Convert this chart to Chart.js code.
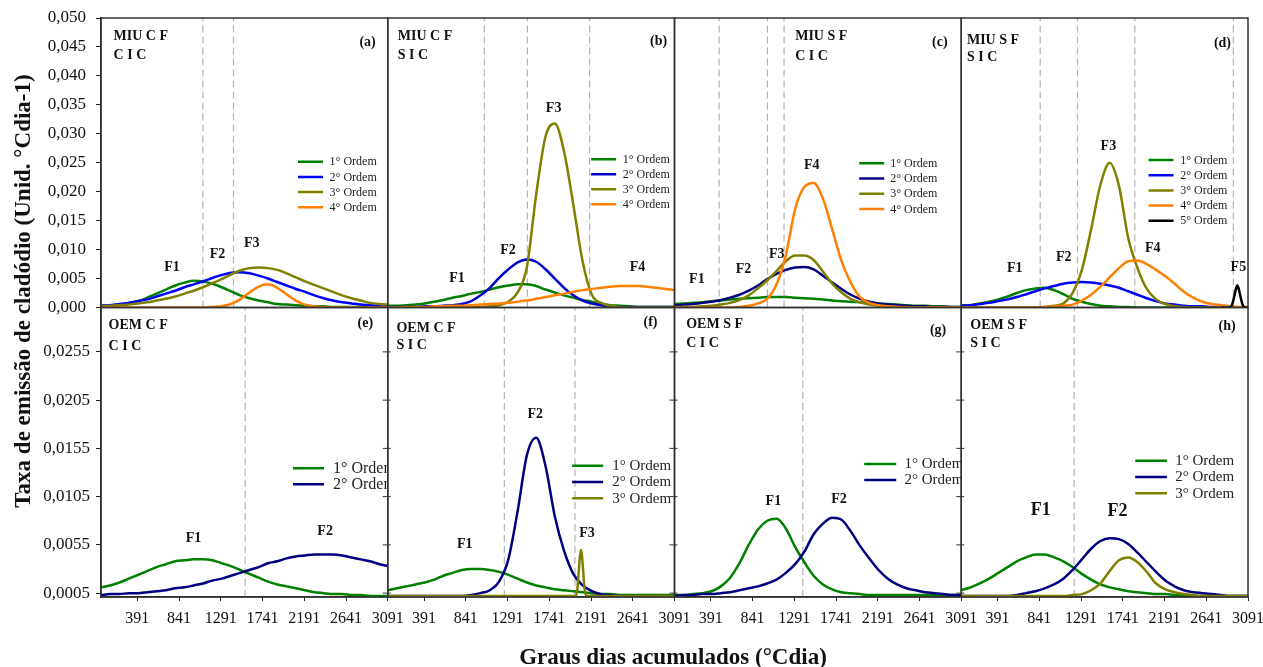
<!DOCTYPE html>
<html>
<head>
<meta charset="utf-8">
<script src="https://cdn.jsdelivr.net/npm/chart.js@4.4.0/dist/chart.umd.min.js"></script>
<style>
  html, body { margin: 0; padding: 0; background: #fff; }
  #wrap { position: relative; width: 1263px; height: 667px; }
</style>
</head>
<body>
<div id="wrap"><canvas id="chart" width="1263" height="667"></canvas></div>
<script>
// eixo x comum (graus dias acumulados)
const gdd = [0,100,200,300,400,500,600,700,800,900,1000,1100,1200,1300,1400,1500,
             1600,1700,1800,1900,2000,2100,2200,2300,2400,2500,2600,2700,2800,2900,3000,3091];
const xTicks = [391, 841, 1291, 1741, 2191, 2641, 3091];
const yTopTicks = [0, 0.005, 0.010, 0.015, 0.020, 0.025, 0.030, 0.035, 0.040, 0.045, 0.050];
const yBotTicks = [0.0005, 0.0055, 0.0105, 0.0155, 0.0205, 0.0255];
const ordens = ['1° Ordem', '2° Ordem', '3° Ordem', '4° Ordem', '5° Ordem'];

// (a) MIU C F / C I C
const a1 = [.0003,.0004,.0005,.0008,.0011,.0017,.0024,.0031,.0038,.0043,.0046,.0045,.0041,.0035,.0028,.0021,.0016,.0012,.0009,.0006,.0005,.0004,.0003,.0002,.0002,.0001,.0001,.0001,.0001,.0001,.0001,.0001];
const a2 = [.0003,.0004,.0006,.0008,.0011,.0014,.0019,.0024,.0029,.0035,.0040,.0045,.0051,.0056,.0060,.0061,.0059,.0055,.0050,.0044,.0038,.0032,.0027,.0021,.0016,.0012,.0009,.0007,.0005,.0004,.0003,.0002];
const a3 = [.0002,.0003,.0004,.0005,.0007,.0009,.0012,.0015,.0019,.0024,.0029,.0035,.0042,.0049,.0057,.0064,.0068,.0069,.0068,.0065,.0059,.0052,.0045,.0039,.0033,.0027,.0021,.0016,.0012,.0008,.0006,.0005];
const a4 = [0,0,0,0,0,0,0,0,0,0,0,.00002,.0001,.0002,.0006,.0014,.0026,.0036,.0040,.0034,.0023,.0012,.0005,.0002,.00005,0,0,0,0,0,0,0];
// (b) MIU C F / S I C
const b1 = [.0003,.0003,.0004,.0005,.0007,.0010,.0013,.0017,.0020,.0024,.0027,.0031,.0035,.0038,.0040,.0040,.0037,.0031,.0026,.0021,.0017,.0013,.0010,.0006,.0004,.0003,.0002,.0001,.0001,.0001,.0001,.0001];
const b2 = [.0001,.0001,.0001,.0001,.0002,.0002,.0003,.0004,.0006,.0011,.0021,.0034,.0051,.0066,.0078,.0083,.0079,.0066,.0050,.0034,.0021,.0012,.0007,.0004,.0002,.0001,.0001,.0001,.0001,.0001,.0001,.0001];
const b3 = [0,0,0,0,0,0,0,0,0,0,.0001,.0002,.0004,.0010,.0026,.0070,.0195,.0295,.0318,.0270,.0178,.0080,.0022,.0008,.0003,.0001,0,0,0,0,0,0];
const b4 = [0,0,.0001,.0001,.0001,.0002,.0002,.0003,.0003,.0004,.0005,.0006,.0007,.0008,.0010,.0012,.0015,.0018,.0021,.0024,.0027,.0030,.0032,.0034,.0036,.0037,.0037,.0037,.0036,.0034,.0032,.0030];
// (c) MIU S F / C I C
const c1 = [.0006,.0007,.0008,.0009,.0011,.0012,.0014,.0015,.0016,.0017,.0018,.0018,.0018,.0017,.0016,.0015,.0014,.0012,.0011,.0010,.0009,.0008,.0007,.0006,.0005,.0004,.0003,.0003,.0002,.0002,.0001,.0001];
const c2 = [.0004,.0005,.0006,.0008,.0010,.0013,.0017,.0022,.0029,.0038,.0049,.0058,.0065,.0069,.0070,.0066,.0055,.0043,.0032,.0022,.0015,.0010,.0007,.0005,.0004,.0003,.0002,.0002,.0001,.0001,.0001,.0001];
const c3 = [.0001,.0001,.0001,.0002,.0003,.0005,.0008,.0013,.0021,.0033,.0047,.0063,.0080,.0090,.0090,.0082,.0062,.0041,.0026,.0015,.0009,.0005,.0003,.0002,.0001,.0001,0,0,0,0,0,0];
const c4 = [0,0,0,0,0,0,0,.0001,.0003,.0007,.0015,.0040,.0090,.0170,.0208,.0215,.0188,.0135,.0080,.0043,.0018,.0008,.0004,.0002,.0001,0,0,0,0,0,0,0];
// (d) MIU S F / S I C
const d1 = [.0003,.0004,.0007,.0010,.0014,.0019,.0025,.0030,.0033,.0034,.0030,.0023,.0015,.0010,.0006,.0003,.0002,.0001,.0001,0,0,0,0,0,0,0,0,0,0,0,0,0];
const d2 = [.0003,.0004,.0006,.0008,.0011,.0014,.0018,.0023,.0028,.0033,.0037,.0041,.0043,.0044,.0043,.0041,.0038,.0034,.0028,.0022,.0016,.0011,.0007,.0005,.0003,.0002,.0002,.0001,.0001,.0001,0,0];
const d3 = [0,0,0,0,0,0,0,0,0,.0001,.0003,.0007,.0025,.0065,.0135,.0212,.0250,.0210,.0120,.0068,.0032,.0014,.0006,.0002,.0001,0,0,0,0,0,0,0];
const d4 = [0,0,0,0,0,0,0,0,0,.0001,.0002,.0003,.0005,.0012,.0022,.0036,.0052,.0068,.0080,.0081,.0075,.0065,.0054,.0041,.0027,.0017,.0010,.0006,.0004,.0002,.0001,.0001];
const d5x = [2800, 2892, 2920, 2948, 2962, 2976, 2990, 3004, 3032, 3060, 3091];
const d5 = [0, 0, .0005, .0023, .0033, .0038, .0033, .0023, .0005, 0, 0];
// (e) OEM C F / C I C
const e1 = [.0011,.0013,.0016,.0020,.0024,.0028,.0032,.0035,.0038,.0039,.0040,.0040,.0039,.0036,.0033,.0029,.0025,.0021,.0017,.0014,.0012,.0010,.0008,.0006,.0005,.0004,.0004,.0003,.0003,.0002,.0002,.0002];
const e2 = [.0003,.0004,.0004,.0005,.0005,.0006,.0007,.0008,.0010,.0011,.0013,.0015,.0018,.0020,.0023,.0026,.0029,.0032,.0036,.0038,.0041,.0043,.0044,.0045,.0045,.0045,.0044,.0042,.0040,.0038,.0035,.0033];
// (f) OEM C F / S I C
const f1 = [.0008,.0010,.0012,.0014,.0016,.0019,.0023,.0026,.0029,.0030,.0030,.0029,.0027,.0024,.0020,.0016,.0013,.0011,.0009,.0008,.0007,.0006,.0005,.0004,.0004,.0003,.0003,.0003,.0003,.0003,.0003,.0003];
const f2 = [.0002,.0002,.0002,.0002,.0002,.0002,.0002,.0002,.0002,.0003,.0005,.0008,.0017,.0040,.0090,.0148,.0166,.0137,.0085,.0049,.0025,.0013,.0007,.0004,.0003,.0002,.0002,.0002,.0002,.0002,.0002,.0002];
const f3x = [0, 1950, 2020, 2040, 2060, 2072, 2083, 2094, 2106, 2126, 2150, 2220, 3091];
const f3 = [.0002, .0002, .0002, .0006, .0029, .0043, .0050, .0043, .0029, .0006, .0002, .0002, .0002];
// (g) OEM S F / C I C
const g1 = [.0003,.0003,.0004,.0005,.0007,.0012,.0021,.0036,.0055,.0071,.0080,.0082,.0072,.0053,.0037,.0023,.0014,.0009,.0006,.0005,.0004,.0003,.0003,.0003,.0003,.0003,.0003,.0003,.0003,.0003,.0003,.0003];
const g2 = [.0002,.0003,.0003,.0004,.0004,.0005,.0006,.0008,.0010,.0012,.0015,.0019,.0026,.0035,.0048,.0066,.0077,.0083,.0081,.0069,.0054,.0041,.0029,.0020,.0014,.0010,.0008,.0006,.0005,.0004,.0003,.0003];
// (h) OEM S F / S I C
const h1 = [.0008,.0011,.0015,.0020,.0026,.0032,.0038,.0042,.0045,.0045,.0042,.0038,.0032,.0025,.0019,.0014,.0011,.0009,.0007,.0006,.0005,.0004,.0004,.0003,.0003,.0002,.0002,.0002,.0002,.0002,.0002,.0002];
const h2 = [.0002,.0002,.0002,.0002,.0002,.0002,.0003,.0005,.0007,.0010,.0014,.0020,.0029,.0040,.0051,.0059,.0062,.0061,.0056,.0047,.0037,.0027,.0018,.0012,.0008,.0006,.0005,.0004,.0003,.0002,.0002,.0002];
const h3 = [.0002,.0002,.0002,.0002,.0002,.0002,.0002,.0002,.0002,.0002,.0002,.0002,.0003,.0004,.0008,.0015,.0028,.0039,.0042,.0037,.0027,.0015,.0009,.0006,.0004,.0003,.0002,.0002,.0002,.0002,.0002,.0002];

// limites das fases (linhas tracejadas)
const phasesA = [1098, 1428];
const phasesB = [1041, 1505, 2176];
const phasesC = [481, 1002, 1181];
const phasesD = [851, 1253, 1871, 2933];
const phasesE = [1554];
const phasesF = [1257, 2018];
const phasesG = [1383];
const phasesH = [1217];

// rotulos das fases: [texto, gdd, taxa]
const fasesA = [['F1', 765, .0070], ['F2', 1256, .0092], ['F3', 1626, .0111]];
const fasesB = [['F1', 747, .0050], ['F2', 1297, .0099], ['F3', 1788, .0344], ['F4', 2693, .0070]];
const fasesC = [['F1', 241, .0048], ['F2', 743, .0065], ['F3', 1103, .0091], ['F4', 1480, .0245]];
const fasesD = [['F1', 576, .0067], ['F2', 1104, .0086], ['F3', 1586, .0278], ['F4', 2065, .0102], ['F5', 2987, .0070]];
const fasesE = [['F1', 997, .0062], ['F2', 2416, .0069]];
const fasesF = [['F1', 829, .0055], ['F2', 1591, .0190], ['F3', 2148, .0067]];
const fasesG = [['F1', 1066, .0100], ['F2', 1774, .0102]];
const fasesH = [['F1', 858, .0091], ['F2', 1683, .0090]];

const GREEN = '#008000', BLUE = '#0000ff', MBLUE = '#0000c8', NAVY = '#000080',
      OLIVE = '#808000', ORANGE = '#ff8000', BLACK = '#000000';
const SERIF = '"Liberation Serif", "Times New Roman", serif';

const panels = [
  { x: 'x0', y: 'yTop', title: ['MIU C F', 'C I C'], tag: '(a)', phases: phasesA, fases: fasesA,
    series: [[gdd, a1, GREEN], [gdd, a2, BLUE], [gdd, a3, OLIVE], [gdd, a4, ORANGE]],
    lay: { t: [12.6, 18.7, 37], tag: [12, 24.7], lg: [197, 25, 228.6, 143.7, 15.2, 12], fs: 14 } },
  { x: 'x1', y: 'yTop', title: ['MIU C F', 'S I C'], tag: '(b)', phases: phasesB, fases: fasesB,
    series: [[gdd, b1, GREEN], [gdd, b2, MBLUE], [gdd, b3, OLIVE], [gdd, b4, ORANGE]],
    lay: { t: [10, 18.7, 37], tag: [7.4, 23.7], lg: [203.4, 25, 235, 141.3, 15, 12], fs: 14 } },
  { x: 'x2', y: 'yTop', title: ['MIU S F', 'C I C'], tag: '(c)', phases: phasesC, fases: fasesC,
    series: [[gdd, c1, GREEN], [gdd, c2, NAVY], [gdd, c3, OLIVE], [gdd, c4, ORANGE]],
    lay: { t: [120.7, 18, 38], tag: [13.7, 24.7], lg: [184.7, 25, 215.7, 145.3, 15.2, 12], fs: 14 } },
  { x: 'x3', y: 'yTop', title: ['MIU S F', 'S I C'], tag: '(d)', phases: phasesD, fases: fasesD,
    series: [[gdd, d1, GREEN], [gdd, d2, BLUE], [gdd, d3, OLIVE], [gdd, d4, ORANGE], [d5x, d5, BLACK]],
    lay: { t: [5.7, 22, 39], tag: [17, 25.3], lg: [187.3, 25, 219, 142, 15.2, 12], fs: 14 } },
  { x: 'x0', y: 'yBot', title: ['OEM C F', 'C I C'], tag: '(e)', phases: phasesE, fases: fasesE,
    series: [[gdd, e1, GREEN], [gdd, e2, NAVY]],
    lay: { t: [7.6, 17.5, 39], tag: [14.6, 16], lg: [192, 31, 232, 160.8, 16, 16], fs: 14 } },
  { x: 'x1', y: 'yBot', title: ['OEM C F', 'S I C'], tag: '(f)', phases: phasesF, fases: fasesF,
    series: [[gdd, f1, GREEN], [gdd, f2, NAVY], [f3x, f3, OLIVE]],
    lay: { t: [8.7, 20.8, 38], tag: [17, 15], lg: [184.4, 31, 224.4, 158.2, 16.3, 15], fs: 14 } },
  { x: 'x2', y: 'yBot', title: ['OEM S F', 'C I C'], tag: '(g)', phases: phasesG, fases: fasesG,
    series: [[gdd, g1, GREEN], [gdd, g2, NAVY]],
    lay: { t: [11.7, 16.5, 36], tag: [15, 22.5], lg: [189.7, 32, 230, 156.5, 16, 15], fs: 14 } },
  { x: 'x3', y: 'yBot', title: ['OEM S F', 'S I C'], tag: '(h)', phases: phasesH, fases: fasesH,
    series: [[gdd, h1, GREEN], [gdd, h2, NAVY], [gdd, h3, OLIVE]],
    lay: { t: [9, 18, 36], tag: [12.3, 18.5], lg: [174, 31.7, 214, 153.2, 16.3, 15], fs: 18 } }
];

const yRange = { yTop: [0, 0.05], yBot: [0.0001, 0.0301] };

// datasets
const datasets = [];
panels.forEach(p => {
  p.phases.forEach(v => {
    datasets.push({
      data: [{ x: v, y: yRange[p.y][0] }, { x: v, y: yRange[p.y][1] }],
      xAxisID: p.x, yAxisID: p.y,
      borderColor: '#b4b4b4', borderWidth: 1.2, borderDash: [7, 4],
      pointRadius: 0, fill: false, order: 100
    });
  });
  p.series.forEach((s, k) => {
    datasets.push({
      data: s[0].map((x, i) => ({ x: x, y: s[1][i] })),
      xAxisID: p.x, yAxisID: p.y,
      borderColor: s[2], borderWidth: 2.5,
      pointRadius: 0, fill: false, cubicInterpolationMode: 'monotone',
      order: -k
    });
  });
});

function xScale() {
  return {
    type: 'linear', axis: 'x', position: 'bottom', stack: 'cols', stackWeight: 1,
    min: 0, max: 3091,
    afterBuildTicks: s => { s.ticks = xTicks.map(v => ({ value: v })); },
    afterFit: s => { s.height = 70; s.paddingLeft = 0; s.paddingRight = 0; },
    grid: { display: true, drawOnChartArea: false, drawTicks: true, tickLength: 4, color: '#222', lineWidth: 1 },
    border: { display: true, color: '#222', width: 1.5 },
    ticks: { autoSkip: false, maxRotation: 0, padding: 8, color: '#111',
             font: { family: SERIF, size: 16 }, callback: v => String(v) }
  };
}

function yScale(range, ticks, dec, pad) {
  return {
    type: 'linear', axis: 'y', position: 'left', stack: 'rows', stackWeight: 1,
    min: range[0], max: range[1],
    afterBuildTicks: s => { s.ticks = ticks.map(v => ({ value: v })); },
    afterFit: s => { s.width = 101; s.paddingTop = 0; s.paddingBottom = 0; },
    grid: { display: true, drawOnChartArea: false, drawTicks: true, tickLength: 5, color: '#222' },
    border: { display: true, color: '#222', width: 1.5 },
    ticks: { autoSkip: false, padding: pad, color: '#111', font: { family: SERIF, size: 17 },
             callback: v => v.toFixed(dec).replace('.', ',') }
  };
}

const chart = new Chart(document.getElementById('chart'), {
  type: 'line',
  data: { datasets: datasets },
  options: {
    responsive: false,
    animation: false,
    devicePixelRatio: 1,
    events: [],
    layout: { padding: { left: 0, right: 15, top: 18, bottom: 0 } },
    plugins: { legend: { display: false }, tooltip: { enabled: false } },
    scales: {
      yBot: yScale(yRange.yBot, yBotTicks, 4, 6),
      yTop: yScale(yRange.yTop, yTopTicks, 3, 10),
      x0: xScale(), x1: xScale(), x2: xScale(), x3: xScale()
    }
  },
  plugins: [{
    id: 'paineis',
    afterDatasetsDraw(c) {
      const ctx = c.ctx;
      panels.forEach(p => {
        const xs = c.scales[p.x], ys = c.scales[p.y];
        const L = xs.left, R = xs.right, T = ys.top, B = ys.bottom;
        const lay = p.lay;
        ctx.save();
        ctx.beginPath(); ctx.rect(L, T, R - L, B - T); ctx.clip();
        ctx.fillStyle = '#111';
        ctx.textBaseline = 'middle';
        // titulo
        ctx.font = 'bold 14px ' + SERIF;
        ctx.textAlign = 'left';
        ctx.fillText(p.title[0], L + lay.t[0], T + lay.t[1]);
        ctx.fillText(p.title[1], L + lay.t[0], T + lay.t[2]);
        ctx.textAlign = 'right';
        ctx.fillText(p.tag, R - lay.tag[0], T + lay.tag[1]);
        // rotulos F
        ctx.textAlign = 'center';
        ctx.font = 'bold ' + lay.fs + 'px ' + SERIF;
        p.fases.forEach(f => {
          ctx.fillText(f[0], xs.getPixelForValue(f[1]), ys.getPixelForValue(f[2]));
        });
        // legenda
        const lg = lay.lg;
        ctx.font = lg[5] + 'px ' + SERIF;
        ctx.textAlign = 'left';
        p.series.forEach((s, k) => {
          const yy = T + lg[3] + k * lg[4];
          ctx.strokeStyle = s[2]; ctx.lineWidth = 2.5;
          ctx.beginPath(); ctx.moveTo(L + lg[0], yy); ctx.lineTo(L + lg[0] + lg[1], yy); ctx.stroke();
          ctx.fillStyle = '#222';
          ctx.fillText(ordens[k], L + lg[2], yy + 0.5);
        });
        ctx.restore();
        // moldura
        ctx.save();
        ctx.strokeStyle = '#333'; ctx.lineWidth = 1.5;
        ctx.strokeRect(L, T, R - L, B - T);
        // marcas do eixo y nos paineis internos (linha inferior)
        if (p.y === 'yBot' && p.x !== 'x0') {
          ctx.lineWidth = 1;
          yBotTicks.forEach(v => {
            const yy = ys.getPixelForValue(v);
            ctx.beginPath(); ctx.moveTo(L - 5, yy); ctx.lineTo(L + 3, yy); ctx.stroke();
          });
        }
        ctx.restore();
      });
    },
    afterDraw(c) {
      const ctx = c.ctx;
      ctx.save();
      ctx.fillStyle = '#111';
      ctx.font = 'bold 23px ' + SERIF;
      ctx.textAlign = 'center';
      ctx.textBaseline = 'alphabetic';
      ctx.fillText('Graus dias acumulados (°Cdia)', 673, 664);
      ctx.translate(30, 291);
      ctx.rotate(-Math.PI / 2);
      ctx.fillText('Taxa de emissão de cladódio (Unid. °Cdia-1)', 0, 0);
      ctx.restore();
    }
  }]
});
</script>
</body>
</html>
